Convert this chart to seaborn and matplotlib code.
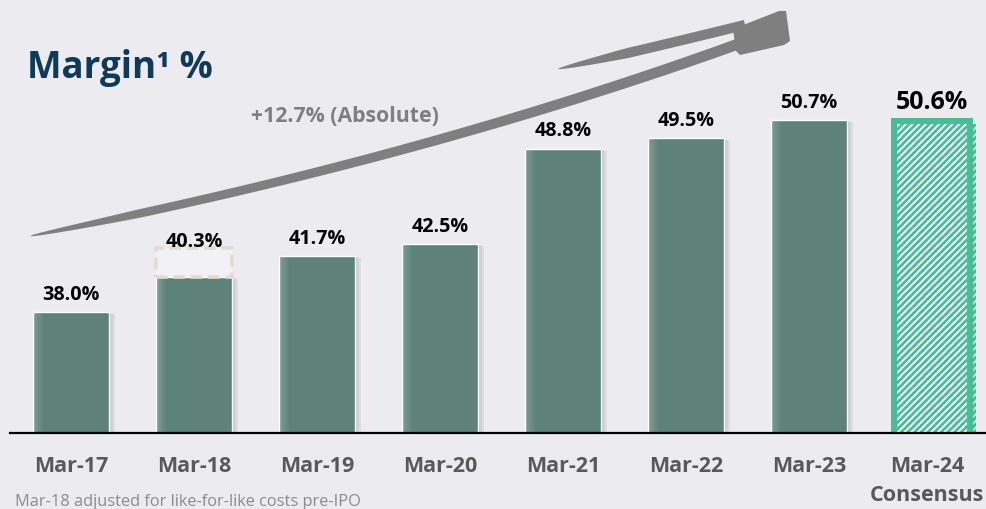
import numpy as np
import pandas as pd
import matplotlib

matplotlib.use("Agg")
import matplotlib.pyplot as plt
import matplotlib.patheffects as pe
import matplotlib.transforms as mtransforms
from matplotlib.patches import Polygon
from matplotlib.ticker import FixedLocator
import seaborn as sns

# data
periods = [
    "Mar-17",
    "Mar-18",
    "Mar-19",
    "Mar-20",
    "Mar-21",
    "Mar-22",
    "Mar-23",
    "Mar-24\nConsensus",
]
margin = [38.0, 40.3, 41.7, 42.5, 48.8, 49.5, 50.7, 50.6]
# dashed box on top of Mar-18 (like-for-like cost adjustment)
adjustment = [0.0, 1.9, 0.0, 0.0, 0.0, 0.0, 0.0, 0.0]
value_labels = [f"{v:.1f}%" for v in margin]

BG = "#EBEBF0"
BAR = "#5E8278"
GREEN = "#45BD98"
GREY = "#7F7F7F"

sns.set_theme(style="white", rc={"axes.facecolor": BG, "figure.facecolor": BG})
plt.rcParams["font.family"] = ["Open Sans", "DejaVu Sans"]
plt.rcParams["hatch.color"] = GREEN
plt.rcParams["hatch.linewidth"] = 2.0

W, H = 987, 510
base = 433.5  # pixel row of the x axis
ppu = 15.1  # pixels per margin point
YMIN, YMAX = 30, 55

fig = plt.figure(figsize=(W / 100, H / 100), dpi=100)
ax = fig.add_axes([9.5 / W, (H - base) / H, 984 / W, (YMAX - YMIN) * ppu / H])

df = pd.DataFrame({"period": periods, "margin": margin})
sns.barplot(
    data=df,
    x="period",
    y="margin",
    color=BAR,
    saturation=1,
    width=0.61,
    ax=ax,
    zorder=2,
)
n = len(periods)

bars = ax.patches[:n]
# soft shadow to the right of each bar
shadow = [
    pe.SimplePatchShadow(offset=(k, -k / 3), shadow_rgbFace="#6f6f75", alpha=0.11)
    for k in (4.5, 3.2, 2.0, 1.0)
] + [pe.Normal()]
for p in bars:
    p.set_path_effects(shadow)

# lighter left edge on the solid bars
glow = np.zeros((1, 40, 4))
glow[..., :3] = 1.0
glow[..., 3] = np.linspace(0.22, 0.0, 40)
for p in bars[:-1]:
    x0, w = p.get_x(), p.get_width()
    ax.imshow(
        glow,
        extent=[x0, x0 + w * 0.14, YMIN, p.get_height()],
        aspect="auto",
        interpolation="bilinear",
        zorder=2.1,
    )

# consensus bar: hatched outline
last = bars[-1]
last.set_facecolor("white")
last.set_edgecolor(GREEN)
last.set_linewidth(4.3)
last.set_hatch("/////")

# adjustment box
for i, a in enumerate(adjustment):
    if a > 0:
        ax.bar(
            i,
            a,
            bottom=margin[i],
            width=0.61,
            facecolor="#F2F2F5",
            edgecolor="#E6DBCB",
            linewidth=2.6,
            linestyle=(0, (3.2, 1.6)),
            zorder=3,
        )

ax.set_ylim(YMIN, YMAX)
ax.set_xlim(-0.5, n - 0.5)

for i, (v, a, lab) in enumerate(zip(margin, adjustment, value_labels)):
    big = i == n - 1
    ax.annotate(
        lab,
        (i, v + a),
        xytext=(0, 1.5 if a else (10 if big else 9.5)),
        textcoords="offset points",
        ha="center",
        va="baseline",
        fontsize=18 if big else 14.2,
        fontweight="bold",
        color="black",
    )

ax.set_xticks(range(n))
ax.set_xticklabels(
    periods, fontsize=15.5, fontweight="bold", color="#595959", linespacing=1.45
)
ax.tick_params(axis="x", which="major", length=0, pad=16.5)
# nudge the two-line label so it stays inside the picture
shift = mtransforms.ScaledTranslation(-5 / 100, 0, fig.dpi_scale_trans)
lbl = ax.get_xticklabels()[-1]
lbl.set_transform(lbl.get_transform() + shift)
ax.xaxis.set_minor_locator(FixedLocator(np.arange(-0.5, n, 1)))
ax.tick_params(
    axis="x", which="minor", length=5, width=1.3, color="black", direction="out"
)
ax.set_yticks([])
ax.set_xlabel("")
ax.set_ylabel("")
for s in ["left", "top", "right"]:
    ax.spines[s].set_visible(False)
ax.spines["bottom"].set_color("black")
ax.spines["bottom"].set_linewidth(1.6)

# overlay in pixel coordinates for the arrow and the free text
ov = fig.add_axes([0, 0, 1, 1], facecolor="none")
ov.set_xlim(0, W)
ov.set_ylim(H, 0)
ov.axis("off")


def stroke(xs, ys, widths):
    dx = np.gradient(xs)
    dy = np.gradient(ys)
    nrm = np.hypot(dx, dy)
    nx, ny = -dy / nrm, dx / nrm
    upper = np.column_stack([xs + nx * widths / 2, ys + ny * widths / 2])
    lower = np.column_stack([xs - nx * widths / 2, ys - ny * widths / 2])
    return np.vstack([upper, lower[::-1]])


# shaft
kx = [30, 200, 300, 440, 640, 737]
ky = [237, 201, 178, 139, 80, 45]
coef = np.polyfit(kx, ky, 3)
xs = np.linspace(30, 742, 300)
ys = np.polyval(coef, xs)
ws = (8 + 3 * (xs - 30) / 712) * np.clip((xs - 30) / 110, 0, 1) ** 0.5
ov.add_patch(Polygon(stroke(xs, ys, ws), closed=True, color=GREY, lw=0))

# upper barb
bx = np.linspace(558, 745, 120)
by = 70 - 0.225 * (bx - 558) - 0.00006 * (bx - 558) ** 2
bw = 10 * np.clip((bx - 558) / 70, 0, 1) ** 0.6
ov.add_patch(Polygon(stroke(bx, by, bw), closed=True, color=GREY, lw=0))

# head block
ov.add_patch(
    Polygon(
        [(733, 30), (779, 12), (786, 12), (790, 42), (784, 46), (740, 56), (736, 52)],
        closed=True,
        color=GREY,
        lw=0,
    )
)

ov.text(
    27, 78, "Margin¹ %", fontsize=26.5, fontweight="bold", color="#0F3A5A", va="baseline"
)
ov.text(
    345,
    116,
    "+12.7% (Absolute)",
    fontsize=15.3,
    fontweight="bold",
    color=GREY,
    ha="center",
    va="center",
)
ov.text(
    15,
    502,
    "Mar-18 adjusted for like-for-like costs pre-IPO",
    fontsize=11.8,
    color="#8C8C8C",
    va="center",
)

fig.savefig("out.png", dpi=100, facecolor=BG)
